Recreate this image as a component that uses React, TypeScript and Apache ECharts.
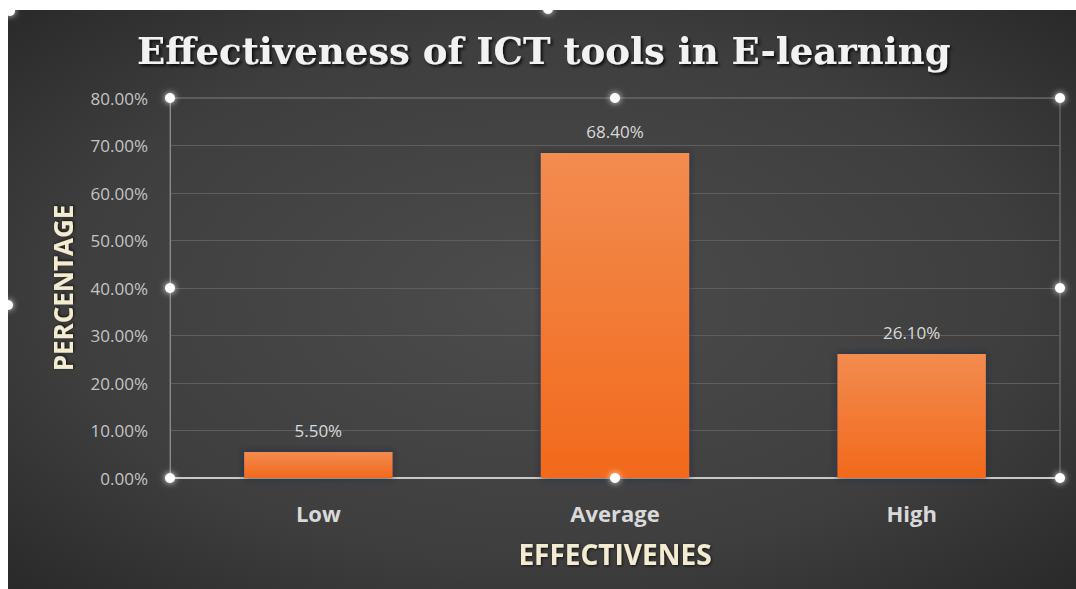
import React, { useEffect, useRef } from "react";
import * as echarts from "echarts";

const categories = ["Low", "Average", "High"];
const values = [5.5, 68.4, 26.1];
const yTicks = { min: 0, max: 80, interval: 10 };
const titleText = "Effectiveness of ICT tools in E-learning";
const xName = "EFFECTIVENES";
const yName = "PERCENTAGE";

const W = 1076;
const H = 589;
const G = { left: 170, right: 16, top: 98, bottom: 111 };

export default function App() {
  const ref = useRef<HTMLDivElement>(null);
  useEffect(() => {
    if (!ref.current) return;
    const chart = echarts.init(ref.current, null, { renderer: "svg" });
    const x0 = G.left, x1 = W - G.right, y0 = G.top, y1 = H - G.bottom;
    const xm = (x0 + x1) / 2, ym = (y0 + y1) / 2;
    const handlePts = [
      [x0, y0], [xm, y0], [x1, y0],
      [x0, ym], [x1, ym],
      [x0, y1], [xm, y1], [x1, y1],
      [548, 9], [8, 305], [10, 11],
    ];
    const handles = handlePts.map(([cx, cy]) => ({
      type: "circle",
      shape: { cx, cy, r: 5 },
      style: { fill: "#ffffff", shadowBlur: 6, shadowColor: "rgba(255,255,255,0.9)" },
      z: 100,
    }));
    const nameStyle = {
      color: "#f3ecd0",
      fontFamily: "Open Sans",
      fontWeight: "bold",
      textShadowColor: "rgba(0,0,0,0.7)",
      textShadowBlur: 3,
      textShadowOffsetX: 1,
      textShadowOffsetY: 1,
    };
    chart.setOption({
      animation: false,
      backgroundColor: "#ffffff",
      graphic: [
        {
          type: "rect",
          shape: { x: 8, y: 10, width: W - 8, height: H - 10 },
          style: {
            fill: new echarts.graphic.RadialGradient(0.5, 0.5, 0.75, [
              { offset: 0, color: "#4c4c4c" },
              { offset: 0.6, color: "#3e3e3e" },
              { offset: 1, color: "#262626" },
            ]),
          },
          z: -10,
          silent: true,
        },
        {
          type: "text",
          left: 137,
          top: 32,
          style: {
            text: titleText,
            fill: "#f2f2f2",
            font: "bold 37px 'DejaVu Serif'",
            textShadowColor: "rgba(0,0,0,0.8)",
            textShadowBlur: 3,
            textShadowOffsetX: 2,
            textShadowOffsetY: 2,
          },
          z: 50,
        },
        ...handles,
      ],
      grid: {
        left: G.left,
        right: G.right,
        top: G.top,
        bottom: G.bottom,
        show: true,
        borderColor: "#7a7a7a",
        borderWidth: 1,
        backgroundColor: "transparent",
      },
      xAxis: {
        type: "category",
        data: categories,
        name: xName,
        nameLocation: "middle",
        nameGap: 62,
        nameTextStyle: { ...nameStyle, fontSize: 28 },
        axisLine: { lineStyle: { color: "#c8c8c8", width: 2 } },
        axisTick: { show: false },
        axisLabel: {
          color: "#d9d9d9",
          fontFamily: "Open Sans",
          fontWeight: "bold",
          fontSize: 22,
          margin: 24,
        },
      },
      yAxis: {
        type: "value",
        min: yTicks.min,
        max: yTicks.max,
        interval: yTicks.interval,
        name: yName,
        nameLocation: "middle",
        nameGap: 94,
        nameTextStyle: { ...nameStyle, fontSize: 26 },
        axisLine: { show: true, lineStyle: { color: "#8a8a8a", width: 1 } },
        axisTick: { show: false },
        splitLine: { lineStyle: { color: "#5e5e5e", width: 1 } },
        axisLabel: {
          color: "#c4c4c4",
          fontFamily: "Open Sans",
          fontSize: 17,
          margin: 22,
          formatter: (v: number) => v.toFixed(2) + "%",
        },
      },
      series: [
        {
          type: "bar",
          data: values,
          barWidth: "50%",
          itemStyle: {
            color: new echarts.graphic.LinearGradient(0, 0, 0, 1, [
              { offset: 0, color: "#f28c50" },
              { offset: 1, color: "#f2691b" },
            ]),
            shadowColor: "rgba(20,40,70,0.8)",
            shadowBlur: 6,
          },
          label: {
            show: true,
            position: "top",
            distance: 13,
            color: "#d9d9d9",
            fontFamily: "Open Sans",
            fontSize: 17,
            formatter: (p: any) => Number(p.value).toFixed(2) + "%",
          },
        },
      ],
    });
    return () => chart.dispose();
  }, []);
  return (
    <div style={{ position: "fixed", left: 0, top: 0, width: W, height: H }}>
      <div ref={ref} style={{ width: W, height: H }} />
    </div>
  );
}
